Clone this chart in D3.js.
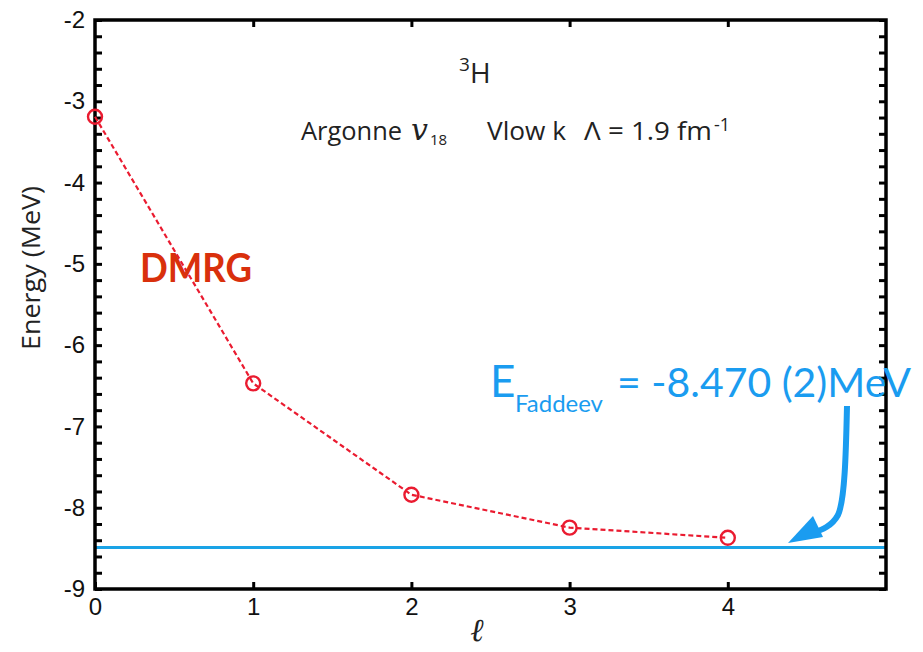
<!DOCTYPE html>
<html><head><meta charset="utf-8">
<script src="https://cdn.jsdelivr.net/npm/d3@7"></script>
<style>body{margin:0;background:#fff}svg{display:block}</style>
</head><body>
<svg id="c" width="923" height="652"></svg>
<script>
const lValues = [0, 1, 2, 3, 4];
const energies = [-3.19, -6.47, -7.84, -8.245, -8.37];
const faddeevEnergy = -8.49;
const xTickValues = [0, 1, 2, 3, 4];
const xTickLabels = ["0", "1", "2", "3", "4"];
const yTickValues = [-2, -3, -4, -5, -6, -7, -8, -9];
const yTickLabels = ["-2", "-3", "-4", "-5", "-6", "-7", "-8", "-9"];

const svg = d3.select("#c");
const x = d3.scaleLinear().domain([0, 5]).range([95, 886]);
const y = d3.scaleLinear().domain([-2, -9]).range([20, 589]);
const minorY = d3.range(0, 36).map(i => -2 - i * 0.2);
const font = "'Liberation Sans', Arial, sans-serif";
const sans = "'Open Sans', sans-serif";

// minor y ticks left & right
svg.append("g").attr("transform", `translate(${x(0)},0)`)
  .call(d3.axisLeft(y).tickValues(minorY).tickSize(-7).tickFormat(""))
  .call(g => g.select(".domain").remove())
  .selectAll("line").attr("stroke", "#000").attr("stroke-width", 3);
svg.append("g").attr("transform", `translate(${x(5)},0)`)
  .call(d3.axisRight(y).tickValues(minorY).tickSize(-7).tickFormat(""))
  .call(g => g.select(".domain").remove())
  .selectAll("line").attr("stroke", "#000").attr("stroke-width", 3);

// y labels
const ya = svg.append("g").attr("transform", `translate(${x(0)},0)`)
  .call(d3.axisLeft(y).tickValues(yTickValues).tickSize(0).tickPadding(10)
    .tickFormat((d, i) => yTickLabels[i]));
ya.select(".domain").remove();
ya.selectAll("text").attr("font-family", font).attr("font-size", 24).attr("fill", "#111");

// x ticks bottom & top
const xa = svg.append("g").attr("transform", `translate(0,${y(-9)})`)
  .call(d3.axisBottom(x).tickValues(xTickValues).tickSize(-7).tickPadding(9)
    .tickFormat((d, i) => xTickLabels[i]));
xa.select(".domain").remove();
xa.selectAll("line").attr("stroke", "#000").attr("stroke-width", 3);
xa.selectAll("text").attr("font-family", font).attr("font-size", 24).attr("fill", "#111");
const xt = svg.append("g").attr("transform", `translate(0,${y(-2)})`)
  .call(d3.axisTop(x).tickValues(xTickValues.slice(1)).tickSize(-7).tickFormat(""));
xt.select(".domain").remove();
xt.selectAll("line").attr("stroke", "#000").attr("stroke-width", 3);

// Faddeev line
svg.append("line")
  .attr("x1", x(0)).attr("x2", x(5)).attr("y1", y(faddeevEnergy)).attr("y2", y(faddeevEnergy))
  .attr("stroke", "#1aa3e6").attr("stroke-width", 3);

// frame
svg.append("rect").attr("x", x(0)).attr("y", y(-2))
  .attr("width", x(5) - x(0)).attr("height", y(-9) - y(-2))
  .attr("fill", "none").attr("stroke", "#000").attr("stroke-width", 3.5);

// DMRG series
const pts = lValues.map((l, i) => [l, energies[i]]);
svg.append("path").datum(pts)
  .attr("d", d3.line().x(d => x(d[0])).y(d => y(d[1])))
  .attr("fill", "none").attr("stroke", "#ea1b30").attr("stroke-width", 2.2)
  .attr("stroke-dasharray", "5,3");
svg.selectAll("circle.pt").data(pts).join("circle")
  .attr("cx", d => x(d[0])).attr("cy", d => y(d[1])).attr("r", 7)
  .attr("fill", "none").attr("stroke", "#ea1b30").attr("stroke-width", 2.4);

// titles
svg.append("text").attr("x", 459).attr("y", 71).attr("font-family", sans)
  .attr("font-size", 19).attr("fill", "#222").text("3");
svg.append("text").attr("x", 470).attr("y", 83).attr("font-family", sans)
  .attr("font-size", 28).attr("fill", "#222").text("H");

const sub = svg.append("g").attr("font-family", sans).attr("fill", "#222");
sub.append("text").attr("x", 301).attr("y", 140).attr("font-size", 25)
  .attr("textLength", 101).attr("lengthAdjust", "spacingAndGlyphs").text("Argonne");
sub.append("text").attr("x", 411).attr("y", 140).attr("font-family", "'DejaVu Serif', serif")
  .attr("font-style", "italic").attr("font-size", 30).text("v");
sub.append("text").attr("x", 430).attr("y", 145).attr("font-size", 15).text("18");
sub.append("text").attr("x", 487).attr("y", 140).attr("font-size", 25)
  .attr("textLength", 79).attr("lengthAdjust", "spacingAndGlyphs").text("Vlow k");
sub.append("text").attr("x", 584).attr("y", 140).attr("font-size", 25)
  .attr("textLength", 128).attr("lengthAdjust", "spacingAndGlyphs").text("Λ = 1.9 fm");
sub.append("text").attr("x", 714).attr("y", 131).attr("font-size", 18).text("-1");

// axis titles
svg.append("text").attr("transform", "translate(40,268) rotate(-90)")
  .attr("text-anchor", "middle").attr("font-family", sans)
  .attr("font-size", 25).attr("fill", "#222")
  .attr("textLength", 164).attr("lengthAdjust", "spacingAndGlyphs").text("Energy (MeV)");
svg.append("text").attr("x", 477).attr("y", 641).attr("text-anchor", "middle")
  .attr("font-family", "'DejaVu Serif', serif").attr("font-style", "italic")
  .attr("font-size", 32).attr("fill", "#222").text("ℓ");

// DMRG annotation
svg.append("text").attr("x", 140).attr("y", 282)
  .attr("font-family", "'Comic Sans MS', Lato, sans-serif").attr("font-weight", "bold")
  .attr("font-size", 40).attr("fill", "#d9300c")
  .attr("textLength", 112).attr("lengthAdjust", "spacingAndGlyphs").text("DMRG");

// Faddeev annotation
const blue = "#1a9cf0";
const ft = svg.append("g").attr("font-family", "'Comic Sans MS', Lato, sans-serif").attr("fill", blue);
ft.append("text").attr("x", 490).attr("y", 397).attr("font-size", 44).text("E");
ft.append("text").attr("x", 515).attr("y", 412).attr("font-size", 24)
  .attr("textLength", 88).attr("lengthAdjust", "spacingAndGlyphs").text("Faddeev");
ft.append("text").attr("x", 617).attr("y", 397).attr("font-size", 40)
  .attr("textLength", 294).attr("lengthAdjust", "spacingAndGlyphs").text("= -8.470 (2)MeV");

// arrow
svg.append("path")
  .attr("d", "M847,406 C846,450 845,500 838,515 C832,526 822,530 812,533")
  .attr("fill", "none").attr("stroke", blue).attr("stroke-width", 6).attr("stroke-linecap", "butt");
svg.append("path").attr("d", "M788,543 L813,516 L823,537 Z").attr("fill", blue);
</script>
</body></html>
